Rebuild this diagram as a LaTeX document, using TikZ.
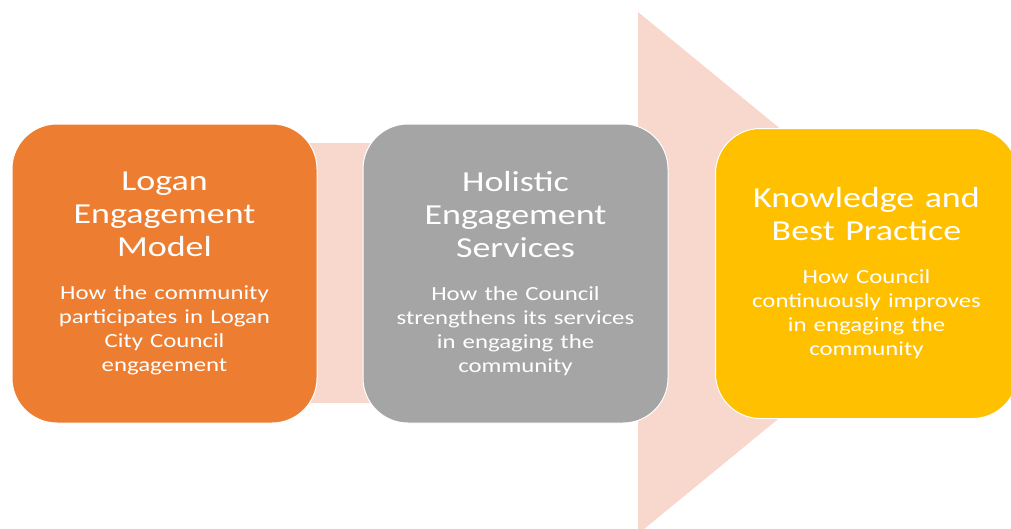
\documentclass[tikz,border=0pt]{standalone}
\usepackage{fontspec}
\setmainfont{Carlito}[FakeStretch=1.24]
\usepackage{tikz}
\definecolor{logan}{HTML}{ED7D31}
\definecolor{holistic}{HTML}{A5A5A5}
\definecolor{knowledge}{HTML}{FFC000}
\definecolor{flow}{HTML}{F8D8CC}
\newcommand{\boxtitle}[1]{{\fontsize{29}{33}\selectfont\spaceskip=0.36em #1\par}\vspace{19pt}}
\newcommand{\boxtext}[1]{{\fontsize{20}{24}\selectfont\spaceskip=0.36em #1\par}}

\begin{document}
\begin{tikzpicture}[x=1pt,y=-1pt,node distance={351pt},main/.style = {draw=white, line width=1pt, rounded corners=45pt, minimum width=305pt, minimum height=299pt, text width=290pt, align=center, text=white, inner sep=0pt}]
      \useasboundingbox (0,0) rectangle (1011,528);
      \clip (0,0) rectangle (1011,528);
      % the big arrow behind the three boxes
      \fill[flow] (150,143) -- (638,143) -- (638,12) -- (956,273)
        -- (638,534) -- (638,403) -- (150,403) -- cycle;

      \node[main, fill=logan](1) at (164.5,273.5){%
        \boxtitle{Logan\\Engagement\\Model}%
        \boxtext{How the community\\participates in Logan\\City Council\\engagement}};
      \node[main, fill=holistic](2)[right of=1]{%
        \boxtitle{Holistic\\Engagement\\Services}%
        \boxtext{How the Council\\strengthens its services\\in engaging the\\community}};
      \node[main, fill=knowledge, minimum width=302pt, minimum height=290pt](3)[right of=2]{%
        \boxtitle{Knowledge and\\Best Practice}%
        \boxtext{How Council\\continuously improves\\in engaging the\\community}};
    \end{tikzpicture}
\end{document}
